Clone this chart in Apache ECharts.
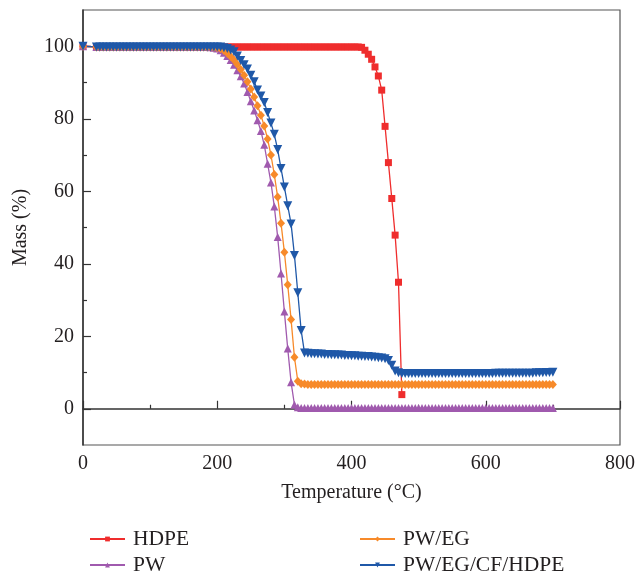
<!DOCTYPE html>
<html>
<head>
<meta charset="utf-8">
<script src="https://cdn.jsdelivr.net/npm/echarts/dist/echarts.min.js"></script>
<style>
html,body{margin:0;padding:0;background:#fff;}
#chart{width:638px;height:574px;}
</style>
</head>
<body>
<div id="chart"></div>
<script>
// Temperature (°C)
var temps = [
  0,20,25,30,35,40,45,50,55,60,
  65,70,75,80,85,90,95,100,105,110,
  115,120,125,130,135,140,145,150,155,160,
  165,170,175,180,185,190,195,200,205,210,
  215,220,225,230,235,240,245,250,255,260,
  265,270,275,280,285,290,295,300,305,310,
  315,320,325,330,335,340,345,350,355,360,
  365,370,375,380,385,390,395,400,405,410,
  415,420,425,430,435,440,445,450,455,460,
  465,470,475,480,485,490,495,500,505,510,
  515,520,525,530,535,540,545,550,555,560,
  565,570,575,580,585,590,595,600,605,610,
  615,620,625,630,635,640,645,650,655,660,
  665,670,675,680,685,690,695,700
];
// Mass (%)
var hdpe = [
  100,99.8,99.8,99.8,99.8,99.8,99.8,99.8,99.8,99.8,
  99.8,99.8,99.8,99.8,99.8,99.8,99.8,99.8,99.8,99.8,
  99.8,99.8,99.8,99.8,99.8,99.8,99.8,99.8,99.8,99.8,
  99.8,99.8,99.8,99.8,99.8,99.8,99.8,99.8,99.8,99.8,
  99.8,99.8,99.8,99.8,99.8,99.8,99.8,99.8,99.8,99.8,
  99.8,99.8,99.8,99.8,99.8,99.8,99.8,99.8,99.8,99.8,
  99.8,99.8,99.8,99.8,99.8,99.8,99.8,99.8,99.8,99.8,
  99.8,99.8,99.8,99.8,99.8,99.8,99.8,99.8,99.8,99.8,
  99.7,98.9,97.8,96.4,94.3,91.8,87.9,77.9,67.9,58,
  47.9,34.9,3.9,null,null,null,null,null,null,null,
  null,null,null,null,null,null,null,null,null,null,
  null,null,null,null,null,null,null,null,null,null,
  null,null,null,null,null,null,null,null,null,null,
  null,null,null,null,null,null,null,null
];
var pw = [
  100,99.8,99.8,99.8,99.8,99.8,99.8,99.8,99.8,99.8,
  99.8,99.8,99.8,99.8,99.8,99.8,99.8,99.8,99.8,99.8,
  99.8,99.8,99.8,99.8,99.8,99.8,99.8,99.8,99.8,99.8,
  99.8,99.8,99.8,99.8,99.8,99.7,99.6,99.4,98.9,98.2,
  97.3,96.2,94.9,93.4,91.7,89.7,87.4,84.8,82.3,79.6,
  76.6,72.8,67.6,62.4,55.8,47.4,37.3,26.8,16.6,7.3,
  1.1,0.4,0.2,0.2,0.2,0.2,0.2,0.2,0.2,0.2,
  0.2,0.2,0.2,0.2,0.2,0.2,0.2,0.2,0.2,0.2,
  0.2,0.2,0.2,0.2,0.2,0.2,0.2,0.2,0.2,0.2,
  0.2,0.2,0.2,0.2,0.2,0.2,0.2,0.2,0.2,0.2,
  0.2,0.2,0.2,0.2,0.2,0.2,0.2,0.2,0.2,0.2,
  0.2,0.2,0.2,0.2,0.2,0.2,0.2,0.2,0.2,0.2,
  0.2,0.2,0.2,0.2,0.2,0.2,0.2,0.2,0.2,0.2,
  0.2,0.2,0.2,0.2,0.2,0.2,0.2,0.2
];
var pwEg = [
  100,99.8,99.8,99.8,99.8,99.8,99.8,99.8,99.8,99.8,
  99.8,99.8,99.8,99.8,99.8,99.8,99.8,99.8,99.8,99.8,
  99.8,99.8,99.8,99.8,99.8,99.8,99.8,99.8,99.8,99.8,
  99.8,99.8,99.8,99.8,99.8,99.8,99.7,99.6,99.3,98.8,
  98.1,97.2,96.2,95.0,93.6,92.0,90.2,88.2,86.0,83.6,
  81.0,78.0,74.4,70.0,64.6,58.4,51.2,43.2,34.2,24.6,
  14.2,7.6,6.9,6.8,6.7,6.7,6.7,6.7,6.7,6.7,
  6.7,6.7,6.7,6.7,6.7,6.7,6.7,6.7,6.7,6.7,
  6.7,6.7,6.7,6.7,6.7,6.7,6.7,6.7,6.7,6.7,
  6.7,6.7,6.7,6.7,6.7,6.7,6.7,6.7,6.7,6.7,
  6.7,6.7,6.7,6.7,6.7,6.7,6.7,6.7,6.7,6.7,
  6.7,6.7,6.7,6.7,6.7,6.7,6.7,6.7,6.7,6.7,
  6.7,6.7,6.7,6.7,6.7,6.7,6.7,6.7,6.7,6.7,
  6.7,6.7,6.7,6.7,6.7,6.7,6.7,6.7
];
var pwEgCfHdpe = [
  100,99.8,99.8,99.8,99.8,99.8,99.8,99.8,99.8,99.8,
  99.8,99.8,99.8,99.8,99.8,99.8,99.8,99.8,99.8,99.8,
  99.8,99.8,99.8,99.8,99.8,99.8,99.8,99.8,99.8,99.8,
  99.8,99.8,99.8,99.8,99.8,99.8,99.8,99.8,99.8,99.6,
  99.4,99.0,98.5,97.3,96.1,94.9,93.7,92.0,90.2,87.9,
  86.3,84.5,81.7,78.8,75.7,71.5,66.3,61.2,56.0,51.0,
  42.3,32.0,21.6,15.4,15.3,15.2,15.2,15.1,15.1,15.0,
  15.0,14.9,14.9,14.8,14.8,14.7,14.7,14.6,14.6,14.5,
  14.5,14.4,14.4,14.3,14.2,14.1,14.0,13.8,13.3,12.0,
  10.4,9.9,9.7,9.7,9.7,9.7,9.7,9.7,9.7,9.7,
  9.7,9.7,9.7,9.7,9.7,9.7,9.7,9.7,9.7,9.7,
  9.7,9.7,9.7,9.7,9.7,9.7,9.7,9.7,9.7,9.7,
  9.8,9.8,9.8,9.8,9.8,9.8,9.8,9.8,9.8,9.8,
  9.8,9.8,9.9,9.9,9.9,10.0,10.0,10.1
];
var xTicks = [0, 200, 400, 600, 800];
var yTicks = [0, 20, 40, 60, 80, 100];
var yMinorTicks = [10, 30, 50, 70, 90];

function pairs(vals) {
  var out = [];
  for (var i = 0; i < temps.length; i++) {
    if (vals[i] !== null && vals[i] !== undefined) out.push([temps[i], vals[i]]);
  }
  return out;
}

var FONT = "'Liberation Serif','Times New Roman',serif";
var TXT = '#231f20';
var AX = '#333333';

var chart = echarts.init(document.getElementById('chart'), null, {renderer: 'canvas'});
chart.setOption({
  animation: false,
  backgroundColor: '#ffffff',
  grid: {left: 83, right: 15, top: 10, bottom: 129, show: true, borderColor: '#555', borderWidth: 1.2},
  legend: [
    {
      data: ['HDPE', 'PW'], orient: 'vertical', left: 84, top: 523, height: 70,
      itemWidth: 35, itemHeight: 6, itemGap: 4,
      textStyle: {fontFamily: FONT, fontSize: 21.5, color: TXT, padding: [0, 0, 0, 3]}
    },
    {
      data: ['PW/EG', 'PW/EG/CF/HDPE'], orient: 'vertical', left: 354, top: 523, height: 70,
      itemWidth: 35, itemHeight: 6, itemGap: 4,
      textStyle: {fontFamily: FONT, fontSize: 21.5, color: TXT, padding: [0, 0, 0, 3]}
    }
  ],
  xAxis: {
    type: 'value', min: xTicks[0], max: xTicks[xTicks.length - 1], interval: 200,
    name: 'Temperature (°C)', nameLocation: 'middle', nameGap: 38,
    nameTextStyle: {fontFamily: FONT, fontSize: 20, color: TXT},
    axisLine: {show: true, lineStyle: {color: AX, width: 1.5}},
    axisTick: {show: true, inside: true, length: 8, lineStyle: {color: AX, width: 1.2}},
    minorTick: {show: true, splitNumber: 2, length: 4, lineStyle: {color: AX, width: 1.2}},
    axisLabel: {fontFamily: FONT, fontSize: 20, color: TXT, margin: 9},
    splitLine: {show: false}
  },
  yAxis: [
    {
      type: 'value', min: -10, max: 110, position: 'left',
      name: 'Mass (%)', nameLocation: 'middle', nameGap: 52,
      nameTextStyle: {fontFamily: FONT, fontSize: 20, color: TXT},
      axisLine: {show: true, lineStyle: {color: AX, width: 1.5}},
      axisTick: {show: true, inside: true, length: 8, customValues: yTicks, lineStyle: {color: AX, width: 1.2}},
      axisLabel: {fontFamily: FONT, fontSize: 20, color: TXT, margin: 9, customValues: yTicks},
      splitLine: {show: false}
    },
    {
      type: 'value', min: -10, max: 110, position: 'left',
      axisLine: {show: false},
      axisTick: {show: true, inside: true, length: 4, customValues: yMinorTicks, lineStyle: {color: AX, width: 1.2}},
      axisLabel: {show: false, customValues: yMinorTicks},
      splitLine: {show: false}
    }
  ],
  series: [
    {
      name: 'HDPE', type: 'line', data: pairs(hdpe),
      symbol: 'rect', symbolSize: 7,
      lineStyle: {width: 1.3, color: '#ef2d2d'}, itemStyle: {color: '#ef2d2d'}
    },
    {
      name: 'PW', type: 'line', data: pairs(pw),
      symbol: 'triangle', symbolSize: 8,
      lineStyle: {width: 1.3, color: '#a05aae'}, itemStyle: {color: '#a05aae'}
    },
    {
      name: 'PW/EG', type: 'line', data: pairs(pwEg),
      symbol: 'diamond', symbolSize: [8, 9],
      lineStyle: {width: 1.3, color: '#f78a2a'}, itemStyle: {color: '#f78a2a'}
    },
    {
      name: 'PW/EG/CF/HDPE', type: 'line', data: pairs(pwEgCfHdpe),
      symbol: 'triangle', symbolRotate: 180, symbolSize: 9,
      lineStyle: {width: 1.3, color: '#1f58a8'}, itemStyle: {color: '#1f58a8'}
    }
  ]
});
</script>
</body>
</html>
